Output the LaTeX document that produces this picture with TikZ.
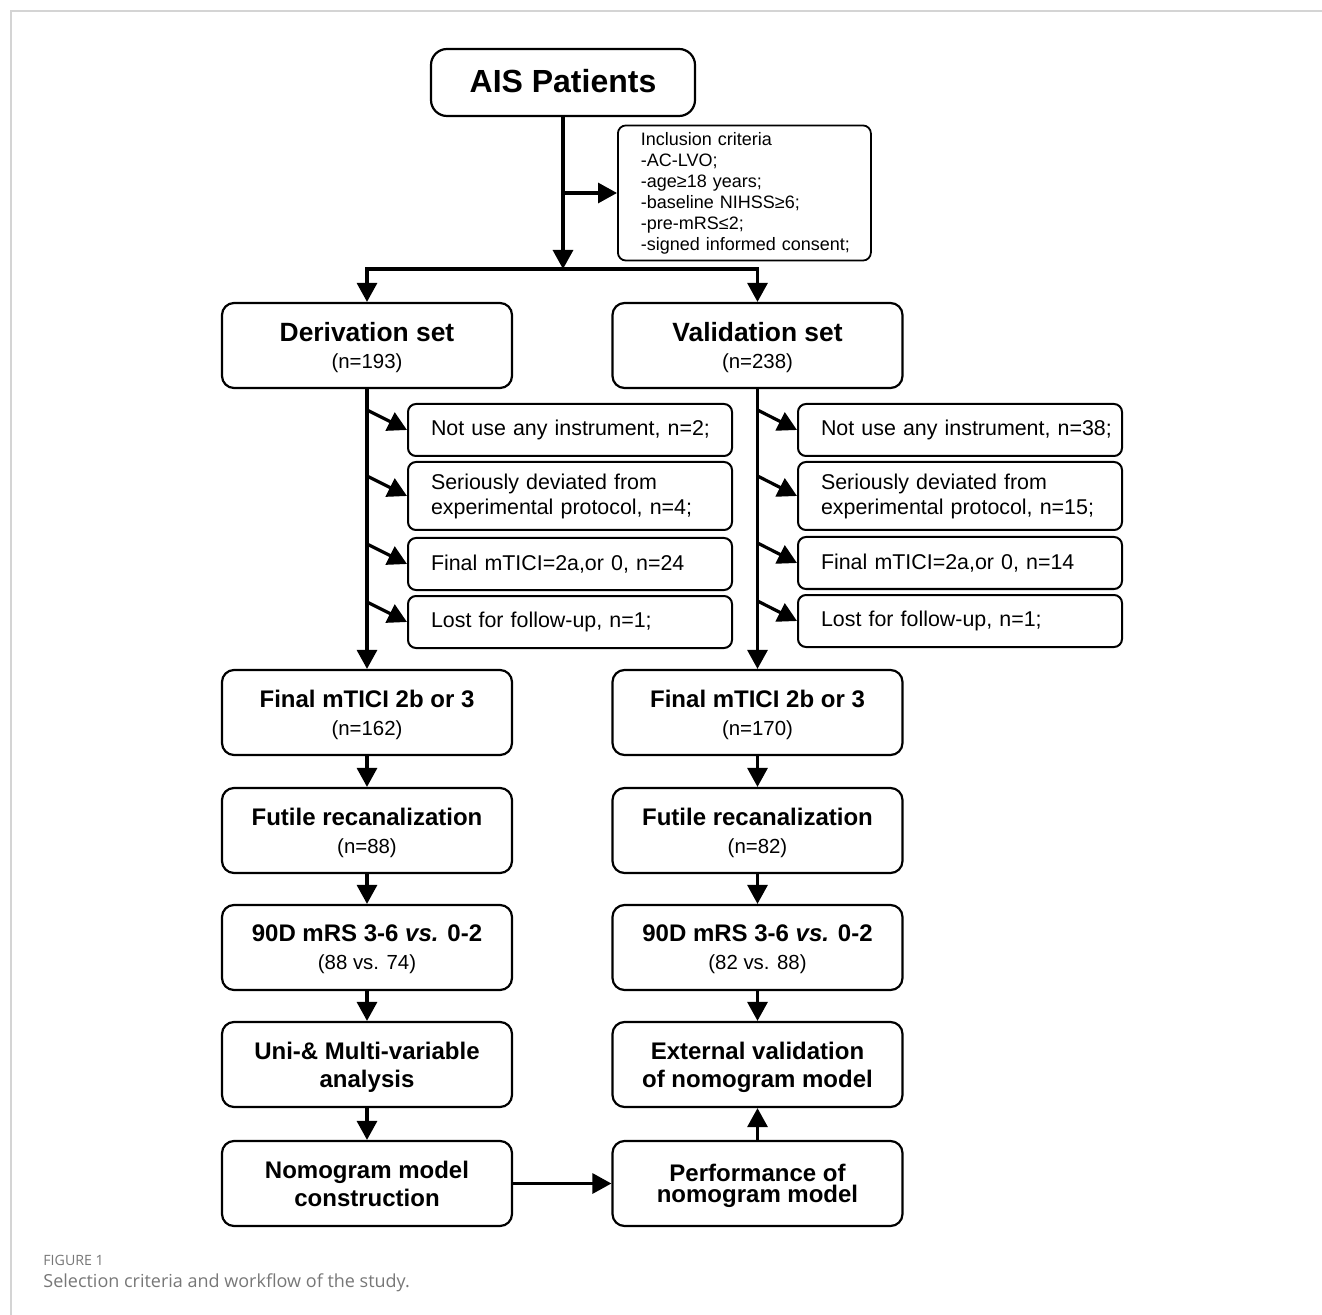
\documentclass[tikz,border=0pt]{standalone}
\usepackage{fontspec}
\setmainfont{Liberation Sans}
\newfontfamily\capfont{Open Sans}
\usetikzlibrary{arrows.meta, positioning, calc}

\definecolor{framegray}{HTML}{D4D4D4}
\definecolor{capgray}{HTML}{777777}

% sample size line under a stage title
\newcommand{\subn}[1]{{\fontsize{10.2}{12}\selectfont\mdseries #1}}

\begin{document}
\begin{tikzpicture}[
    x=0.5pt, y=-0.5pt,
    stage/.style={rectangle, draw=black, line width=1.1pt, rounded corners=6pt,
        minimum width=145pt, minimum height=42.5pt, inner sep=0pt, align=center,
        text depth=0pt, font=\fontsize{12}{14}\selectfont\bfseries},
    excl/.style={rectangle, draw=black, line width=1pt, rounded corners=4pt,
        anchor=west, text width=162pt, inner xsep=0pt, inner ysep=0pt, align=left,
        font=\fontsize{10.7}{12.5}\selectfont,
        execute at begin node={\leftskip=11.5pt\relax}},
    crit/.style={rectangle, draw=black, line width=0.9pt, rounded corners=4pt,
        anchor=west, text width=126.5pt, minimum height=66pt, inner xsep=0pt, align=left,
        font=\fontsize{9}{10.5}\selectfont,
        execute at begin node={\leftskip=11.5pt\relax}},
    arr/.style={line width=1.6pt, -{Triangle[length=9.5pt, width=10pt]}}
]
    \useasboundingbox (0,0) rectangle (1322,1315);

    % page frame
    \draw[framegray, line width=0.8pt] (1322,11) -- (11,11) -- (11,1315);

    % AIS patients
    \node[stage, minimum width=132pt, minimum height=33.5pt, rounded corners=8pt, text depth=2pt,
        font=\fontsize{16}{18}\selectfont\bfseries] (ais) at (563,82.5) {AIS Patients};

    % Inclusion criteria
    \node[crit] (incl) at (617,193) {Inclusion criteria\\-AC-LVO;\\-age≥18 years;\\-baseline NIHSS≥6;\\-pre-mRS≤2;\\-signed informed consent;};

    \coordinate (split) at (563,269);
    \draw[arr] (ais) -- (split);
    \draw[arr] (ais.south |- incl.west) -- (incl.west);

    % Derivation and validation sets
    \node[stage, text depth=-1.5pt, font=\fontsize{13.2}{13.5}\selectfont\bfseries] (deriv) at (367,345.5) {Derivation set\\\subn{(n=193)}};
    \node[stage, text depth=-1.5pt, font=\fontsize{13.2}{13.5}\selectfont\bfseries] (valid) at (757.5,345.5) {Validation set\\\subn{(n=238)}};
    \draw[arr] (split) -| (deriv);
    \draw[arr] (split) -| (valid);

    % Exclusions, derivation set
    \node[excl, minimum height=26pt] (dx1) at (407,430) {Not use any instrument, n=2;};
    \node[excl, minimum height=34pt] (dx2) at (407,496) {Seriously deviated from\\experimental protocol, n=4;};
    \node[excl, minimum height=26pt] (dx3) at (407,564) {Final mTICI=2a,or 0, n=24};
    \node[excl, minimum height=26pt] (dx4) at (407,622) {Lost for follow-up, n=1;};

    % Exclusions, validation set
    \node[excl, minimum height=26pt] (vx1) at (797,430) {Not use any instrument, n=38;};
    \node[excl, minimum height=34pt] (vx2) at (797,496) {Seriously deviated from\\experimental protocol, n=15;};
    \node[excl, minimum height=26pt] (vx3) at (797,563) {Final mTICI=2a,or 0, n=14};
    \node[excl, minimum height=26pt] (vx4) at (797,621) {Lost for follow-up, n=1;};

    \draw[arr] ($(dx1.west -| deriv.south)+(0,-20)$) -- (dx1.west);
    \draw[arr] ($(dx2.west -| deriv.south)+(0,-20)$) -- (dx2.west);
    \draw[arr] ($(dx3.west -| deriv.south)+(0,-20)$) -- (dx3.west);
    \draw[arr] ($(dx4.west -| deriv.south)+(0,-20)$) -- (dx4.west);
    \draw[arr] ($(vx1.west -| valid.south)+(0,-20)$) -- (vx1.west);
    \draw[arr] ($(vx2.west -| valid.south)+(0,-20)$) -- (vx2.west);
    \draw[arr] ($(vx3.west -| valid.south)+(0,-20)$) -- (vx3.west);
    \draw[arr] ($(vx4.west -| valid.south)+(0,-20)$) -- (vx4.west);

    % Derivation workflow
    \node[stage] (dfinal) at (367,712.5) {Final mTICI 2b or 3\\\subn{(n=162)}};
    \node[stage] (dfutile) at (367,830.5) {Futile recanalization\\\subn{(n=88)}};
    \node[stage] (dmrs) at (367,947.5) {90D mRS 3-6 \textit{vs.} 0-2\\\subn{(88 vs. 74)}};
    \node[stage] (uni) at (367,1064.5) {Uni-\& Multi-variable\\analysis};
    \node[stage] (nomo) at (367,1183.5) {Nomogram model\\construction};

    % Validation workflow
    \node[stage] (vfinal) at (757.5,712.5) {Final mTICI 2b or 3\\\subn{(n=170)}};
    \node[stage] (vfutile) at (757.5,830.5) {Futile recanalization\\\subn{(n=82)}};
    \node[stage] (vmrs) at (757.5,947.5) {90D mRS 3-6 \textit{vs.} 0-2\\\subn{(82 vs. 88)}};
    \node[stage] (extval) at (757.5,1064.5) {External validation\\of nomogram model};
    \node[stage, font=\fontsize{12}{10.5}\selectfont\bfseries] (perf) at (757.5,1183.5) {Performance of\\nomogram model};

    % Connections
    \draw[arr] (deriv) -- (dfinal);
    \draw[arr] (dfinal) -- (dfutile);
    \draw[arr] (dfutile) -- (dmrs);
    \draw[arr] (dmrs) -- (uni);
    \draw[arr] (uni) -- (nomo);
    \draw[arr] (valid) -- (vfinal);
    \draw[arr] (vfinal) -- (vfutile);
    \draw[arr] (vfutile) -- (vmrs);
    \draw[arr] (vmrs) -- (extval);
    \draw[arr] (nomo) -- (perf);
    \draw[arr] (perf) -- (extval);

    % Caption
    \node[anchor=west, inner sep=0pt, text=capgray, font=\capfont\fontsize{7.1}{8}\selectfont] (fig) at (43,1260) {FIGURE 1};
    \node[anchor=west, inner sep=0pt, text=capgray, font=\capfont\fontsize{9}{10}\selectfont] (cap) at (43,1283) {Selection criteria and workflow of the study.};
\end{tikzpicture}
\end{document}
